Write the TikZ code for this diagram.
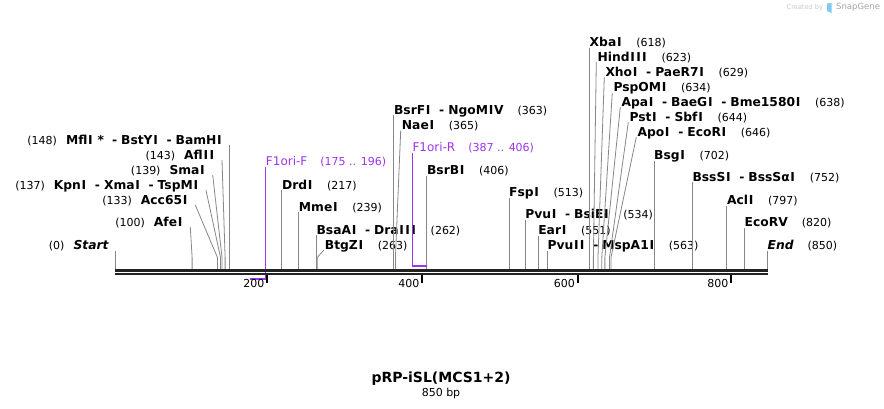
\documentclass[tikz,border=0pt]{standalone}
\usepackage{fontspec}
\setmainfont{DejaVu Sans}
\definecolor{leadgray}{RGB}{135,135,135}
\definecolor{barblack}{RGB}{34,34,34}
\definecolor{primerpurple}{RGB}{160,50,240}
\definecolor{wmgray}{RGB}{200,200,200}
\definecolor{wmdark}{RGB}{165,165,165}
\definecolor{wmblue}{RGB}{130,200,240}
\newcommand{\nm}[1]{{\fontsize{12.3}{14}\selectfont\bfseries #1}}
\newcommand{\bI}{\kern0.7pt I\kern0.7pt}
\newcommand{\gapR}{\hspace{14pt}}
\newcommand{\gapL}{\hspace{9pt}}
\newcommand{\dsh}{\hspace{8pt}-\hspace{4pt}}
\newcommand{\slantL}[2]{\coordinate (a#1) at ([xshift=7pt,yshift=-5.5pt]#2.east);
  \draw[leader] (p#1) -- ([yshift=12pt]p#1) -- (a#1);}
\newcommand{\slantR}[2]{\coordinate (a#1) at ([xshift=-1pt,yshift=-5.5pt]#2.west);
  \draw[leader] (p#1) -- ([yshift=12pt]p#1) -- (a#1);}
\newcommand{\vertR}[2]{\coordinate (a#1) at ([yshift=-5.5pt]#2.west);
  \draw[leader] (p#1) -- (p#1 |- a#1);}
\newcommand{\vertL}[2]{\coordinate (a#1) at ([yshift=-5.5pt]#2.east);
  \draw[leader] (p#1) -- (p#1 |- a#1);}
\tikzset{
  leader/.style={draw=leadgray, line width=0.8pt},
  lab/.style={inner sep=0pt, text height=11pt, text depth=2pt, font=\fontsize{11}{13}\selectfont},
  rlab/.style={lab, anchor=west},
  llab/.style={lab, anchor=east},
  plab/.style={lab, anchor=west, text=primerpurple},
  barline/.style={draw=barblack, line cap=butt},
  tickmark/.style={draw=black, line width=2pt},
  ticklab/.style={anchor=east, inner sep=0pt, font=\fontsize{11}{13}\selectfont},
  primerline/.style={draw=primerpurple, line width=2pt},
  primerleader/.style={draw=primerpurple, line width=1pt},
}
\begin{document}
\begin{tikzpicture}[x=1pt,y=-1pt]
\fill[white] (0,0) rectangle (884,408);
\useasboundingbox (0,0) rectangle (884,408);

% positions on the bar
\foreach \p/\xx in {0/115.4,100/192.12,133/217.44,137/220.51,139/222.04,143/225.11,148/228.95,
  175/249.66,196/265.77,217/281.88,239/298.76,262/316.41,263/317.17,363/393.89,365/395.43,
  387/412.31,406/426.88,513/508.97,534/525.08,551/538.13,563/547.33,618/589.53,623/593.37,
  629/597.97,634/601.8,638/604.87,644/609.48,646/611.01,702/653.97,752/692.33,797/726.86,
  820/744.5,850/767.52}
  {\coordinate (p\p) at (\xx,269.5);}

% left-side labels
\node[llab] (lStart) at (108.7,245) {(0)\gapL\nm{\itshape Start}};
\node[llab] (l100) at (183.3,221.7) {(100)\gapL\nm{Afe\bI}};
\node[llab] (l133) at (188.3,199.5) {(133)\gapL\nm{Acc65\bI}};
\node[llab] (l137) at (199,184.7) {(137)\gapL\nm{Kpn\bI\dsh Xma\bI\dsh TspM\bI}};
\node[llab] (l139) at (205.7,169.7) {(139)\gapL\nm{Sma\bI}};
\node[llab] (l143) at (215,154.7) {(143)\gapL\nm{Afl\bI\bI}};
\node[llab] (l148) at (222.7,139.7) {(148)\gapL\nm{Mfl\bI~*\dsh BstY\bI\dsh BamH\bI}};

% right-side labels
\node[rlab] (l217) at (281.88,184.7) {\nm{Drd\bI}\gapR(217)};
\node[rlab] (l239) at (298.76,206.7) {\nm{Mme\bI}\gapR(239)};
\node[rlab] (l262) at (316.41,229.7) {\nm{BsaA\bI\dsh Dra\bI\bI\bI}\gapR(262)};
\node[rlab] (l263) at (324.7,244.7) {\nm{BtgZ\bI}\gapR(263)};
\node[rlab] (l363) at (393.89,109.7) {\nm{BsrF\bI\dsh NgoM\bI V}\gapR(363)};
\node[rlab] (l365) at (401.7,125) {\nm{Nae\bI}\gapR(365)};
\node[rlab] (l406) at (426.88,170) {\nm{BsrB\bI}\gapR(406)};
\node[rlab] (l513) at (508.97,192.3) {\nm{Fsp\bI}\gapR(513)};
\node[rlab] (l534) at (525.08,214.3) {\nm{Pvu\bI\dsh BsiE\bI}\gapR(534)};
\node[rlab] (l551) at (538.13,230) {\nm{Ear\bI}\gapR(551)};
\node[rlab] (l563) at (547.33,245) {\nm{Pvu\bI\bI\dsh MspA1\bI}\gapR(563)};
\node[rlab] (l618) at (589.53,42.3) {\nm{Xba\bI}\gapR(618)};
\node[rlab] (l623) at (597.3,56.7) {\nm{Hind\bI\bI\bI}\gapR(623)};
\node[rlab] (l629) at (605.3,71.7) {\nm{Xho\bI\dsh PaeR7\bI}\gapR(629)};
\node[rlab] (l634) at (613.3,87.3) {\nm{PspOM\bI}\gapR(634)};
\node[rlab] (l638) at (621.3,101.7) {\nm{Apa\bI\dsh BaeG\bI\dsh Bme1580\bI}\gapR(638)};
\node[rlab] (l644) at (629.3,116.7) {\nm{Pst\bI\dsh Sbf\bI}\gapR(644)};
\node[rlab] (l646) at (637.3,131.7) {\nm{Apo\bI\dsh EcoR\bI}\gapR(646)};
\node[rlab] (l702) at (653.97,155.3) {\nm{Bsg\bI}\gapR(702)};
\node[rlab] (l752) at (692.33,176.7) {\nm{BssS\bI\dsh BssSα\bI}\gapR(752)};
\node[rlab] (l797) at (726.86,200) {\nm{Acl\bI}\gapR(797)};
\node[rlab] (l820) at (744.5,222.3) {\nm{EcoRV}\gapR(820)};
\node[rlab] (l850) at (767.52,245) {\nm{\itshape End}\gapR(850)};

% primer labels
\node[plab] (lF) at (265.77,161.3) {{\fontsize{12}{14}\selectfont F1ori-F}\hspace{13pt}(175 .. 196)};
\node[plab] (lR) at (412.31,147) {{\fontsize{12}{14}\selectfont F1ori-R}\hspace{13pt}(387 .. 406)};

% leaders
\vertL{0}{lStart}
\slantL{100}{l100}
\slantL{133}{l133}
\slantL{137}{l137}
\slantL{139}{l139}
\slantL{143}{l143}
\vertL{148}{l148}
\vertR{217}{l217}
\vertR{239}{l239}
\vertR{262}{l262}
\slantR{263}{l263}
\vertR{363}{l363}
\slantR{365}{l365}
\vertR{406}{l406}
\vertR{513}{l513}
\vertR{534}{l534}
\vertR{551}{l551}
\vertR{563}{l563}
\vertR{618}{l618}
\slantR{623}{l623}
\slantR{629}{l629}
\slantR{634}{l634}
\slantR{638}{l638}
\slantR{644}{l644}
\slantR{646}{l646}
\vertR{702}{l702}
\vertR{752}{l752}
\vertR{797}{l797}
\vertR{820}{l820}
\vertR{850}{l850}

% primers
\coordinate (fF) at (249.66,279);
\coordinate (fFe) at (265.77,279);
\coordinate (aF) at ([yshift=-5.5pt]lF.west);
\draw[primerline] (fF) -- (fFe);
\draw[primerleader] (fFe) -- (fFe |- aF);
\coordinate (fR) at (412.31,265.7);
\coordinate (fRe) at (426.88,265.7);
\coordinate (aR) at ([yshift=-5.5pt]lR.west);
\draw[primerline] (fR) -- (fRe);
\draw[primerleader] (fR) -- (fR |- aR);

% sequence bar
\draw[barline, line width=2.7pt] (115.4,270.7) -- (767.52,270.7);
\draw[barline, line width=2pt] (115.4,274.3) -- (767.52,274.3);

% ticks
\foreach \t/\xx in {200/267,400/422,600/577.5,800/731}{
  \coordinate (tk\t) at (\xx,275);
  \draw[tickmark] (tk\t) -- ++(0,8);
  \node[ticklab] (tl\t) at (\xx-2.5,283.5) {\t};
}

% title
\node[inner sep=0pt, font=\fontsize{14}{16}\selectfont\bfseries] (title) at (441,378.3) {pRP-iSL(MCS1+2)};
\node[inner sep=0pt, font=\fontsize{11}{13}\selectfont] (len) at (441,393.3) {850 bp};

% watermark
\node[anchor=west, inner sep=0pt, text=wmgray, font=\fontsize{6.6}{8}\selectfont] (wm1) at (786.5,7.3) {Created by};
\fill[wmblue] (827,3.5) -- (831.5,3) -- (831.5,13) -- (827,11) -- cycle;
\node[anchor=west, inner sep=0pt, text=wmdark, font=\fontsize{8.5}{10}\selectfont] (wm2) at (836,7.5) {SnapGene};
\end{tikzpicture}
\end{document}
